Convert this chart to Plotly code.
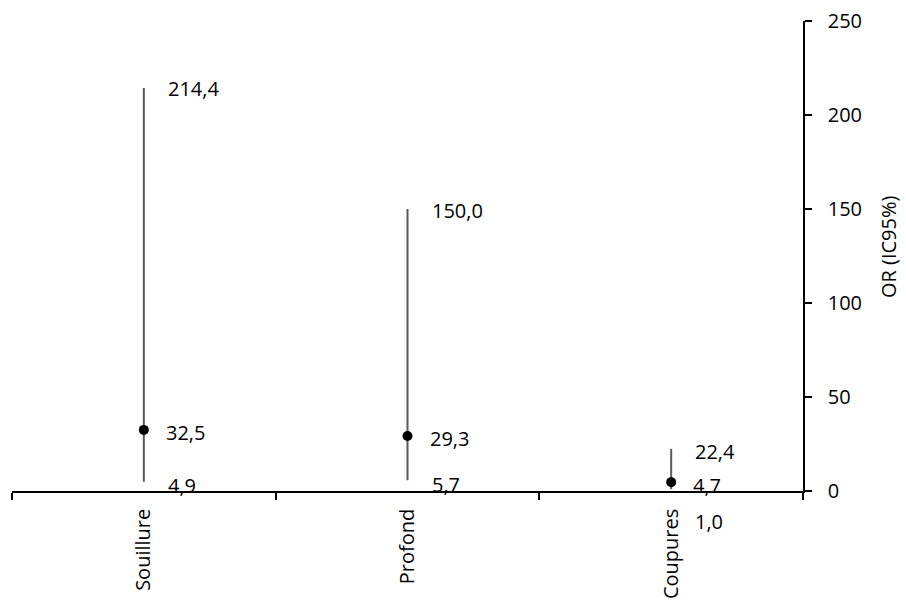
import plotly.graph_objects as go

categories = ["Souillure", "Profond", "Coupures"]
or_values = [32.5, 29.3, 4.7]
ci_low = [4.9, 5.7, 1.0]
ci_high = [214.4, 150.0, 22.4]
y_ticks = [0, 50, 100, 150, 200, 250]

def fmt(v):
    return f"{v:.1f}".replace(".", ",")

FONT = "Open Sans"
fig = go.Figure()
fig.add_trace(go.Scatter(
    x=categories, y=or_values, mode="markers",
    marker=dict(color="black", size=10, symbol="circle"),
    error_y=dict(type="data", symmetric=False,
                 array=[h - o for h, o in zip(ci_high, or_values)],
                 arrayminus=[o - l for o, l in zip(or_values, ci_low)],
                 color="#595959", thickness=2, width=0),
    cliponaxis=False, showlegend=False, hoverinfo="skip",
))

low_shift = [-4, -4, -32]
annots = []
for i, c in enumerate(categories):
    annots.append(dict(x=c, y=ci_high[i], text=fmt(ci_high[i]), xanchor="left", yanchor="middle",
                       xshift=22, yshift=-1 if i < 2 else -3, showarrow=False))
    annots.append(dict(x=c, y=or_values[i], text=fmt(or_values[i]), xanchor="left", yanchor="middle",
                       xshift=20, yshift=-3, showarrow=False))
    annots.append(dict(x=c, y=ci_low[i], text=fmt(ci_low[i]), xanchor="left", yanchor="middle",
                       xshift=22, yshift=low_shift[i], showarrow=False))
annots.append(dict(xref="paper", yref="paper", x=1.1075, y=0.519, text="OR (IC95%)",
                   textangle=-90, showarrow=False, xanchor="center", yanchor="middle",
                   font=dict(family=FONT, size=20, color="black")))

fig.update_layout(
    width=906, height=605,
    margin=dict(l=12, r=103, t=21, b=114),
    paper_bgcolor="white", plot_bgcolor="white",
    font=dict(family=FONT, size=20, color="black"),
    annotations=annots,
    xaxis=dict(type="category", categoryorder="array", categoryarray=categories,
               range=[-0.5, 2.5], tickson="boundaries", ticks="outside", ticklen=7,
               tickcolor="black", tickwidth=1.5, showline=True, linecolor="black", linewidth=1.5,
               showgrid=False, zeroline=False, tickangle=-90, automargin=False,
               ticklabelstandoff=8,
               tickfont=dict(family=FONT, size=20, color="black")),
    yaxis=dict(side="right", range=[0, 250], tickvals=y_ticks, ticktext=[str(t) for t in y_ticks],
               ticks="outside", ticklen=7, tickcolor="black", tickwidth=1.5,
               showline=True, linecolor="black", linewidth=1.5, showgrid=False, zeroline=False,
               ticklabelstandoff=12, automargin=False,
               tickfont=dict(family=FONT, size=20, color="black")),
)
fig.write_html("out.html", config={"displayModeBar": False},
               post_script="document.body.style.margin='0';document.body.style.overflow='hidden';")
